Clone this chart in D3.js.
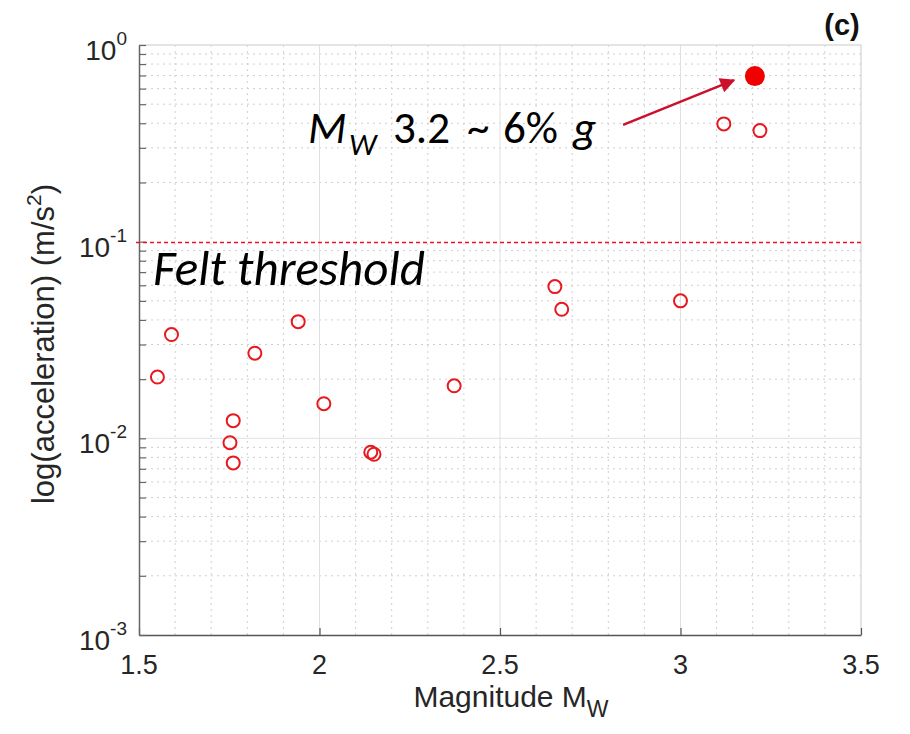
<!DOCTYPE html>
<html>
<head>
<meta charset="utf-8">
<script src="https://cdn.jsdelivr.net/npm/d3@7"></script>
<style>
  body { margin: 0; background: #fff; }
  svg { display: block; }
</style>
</head>
<body>
<div id="chart"></div>
<script>
// Event magnitudes (Mw) and peak accelerations (m/s^2)
const magnitudes = [1.551, 1.590, 1.821, 1.941, 1.761, 1.752, 1.761, 2.012, 2.142, 2.151, 2.373, 2.652, 2.671, 3.000, 3.120, 3.220];
const accelerations = [0.0205, 0.0337, 0.0271, 0.0392, 0.0123, 0.0095, 0.0075, 0.0150, 0.0085, 0.0083, 0.0185, 0.0591, 0.0453, 0.0500, 0.397, 0.367];

// Highlighted event
const highlightMag = [3.206];
const highlightAcc = [0.695];

const feltThreshold = 0.1;
const xTickValues = [1.5, 2, 2.5, 3, 3.5];
const yTickExponents = [0, -1, -2, -3];

const W = 910, H = 734;
const pLeft = 139, pRight = 861, pTop = 45, pBottom = 635;

const svg = d3.select('#chart').append('svg')
    .attr('width', W).attr('height', H)
    .attr('font-family', '"Liberation Sans", Arial, Helvetica, sans-serif');

const x = d3.scaleLinear().domain([1.5, 3.5]).range([pLeft, pRight]);
const y = d3.scaleLog().domain([1e-3, 1]).range([pBottom, pTop]);

// grid -------------------------------------------------------------
const grid = svg.append('g');
const xMinor = d3.range(16, 35).map(d => d / 10).filter(d => xTickValues.indexOf(d) < 0);
const yAll = y.ticks();
const yMajor = yTickExponents.map(e => Math.pow(10, e));
const yMinor = yAll.filter(v => !yMajor.some(m => Math.abs(m - v) < 1e-12));

grid.selectAll('.xminor').data(xMinor).join('line')
    .attr('x1', d => x(d)).attr('x2', d => x(d))
    .attr('y1', pTop).attr('y2', pBottom)
    .attr('stroke', '#cfcfcf').attr('stroke-width', 1)
    .attr('stroke-dasharray', '2,4');

grid.selectAll('.yminor').data(yMinor).join('line')
    .attr('y1', d => y(d)).attr('y2', d => y(d))
    .attr('x1', pLeft).attr('x2', pRight)
    .attr('stroke', '#cfcfcf').attr('stroke-width', 1)
    .attr('stroke-dasharray', '2,4');

grid.selectAll('.xmajor').data([2, 2.5, 3]).join('line')
    .attr('x1', d => x(d)).attr('x2', d => x(d))
    .attr('y1', pTop).attr('y2', pBottom)
    .attr('stroke', '#e0e0e0').attr('stroke-width', 1);

grid.selectAll('.ymajor').data([1e-2]).join('line')
    .attr('y1', d => y(d)).attr('y2', d => y(d))
    .attr('x1', pLeft).attr('x2', pRight)
    .attr('stroke', '#e0e0e0').attr('stroke-width', 1);

// box top / right (light)
svg.append('path')
    .attr('d', `M${pLeft},${pTop}H${pRight}V${pBottom}`)
    .attr('fill', 'none').attr('stroke', '#dcdcdc').attr('stroke-width', 1.5);

// axes -------------------------------------------------------------
const xAxis = svg.append('g')
    .attr('transform', `translate(0,${pBottom})`)
    .call(d3.axisBottom(x).tickValues(xTickValues).tickSizeInner(-7).tickSizeOuter(0).tickFormat(''));
xAxis.select('.domain').attr('stroke', '#555').attr('stroke-width', 1.5);
xAxis.selectAll('.tick line').attr('stroke', '#555').attr('stroke-width', 1.2);

const yAxis = svg.append('g')
    .attr('transform', `translate(${pLeft},0)`)
    .call(d3.axisLeft(y).tickValues(yAll).tickSizeInner(-7).tickSizeOuter(0).tickFormat(''));
yAxis.select('.domain').attr('stroke', '#666').attr('stroke-width', 1.5);
yAxis.selectAll('.tick line').attr('stroke', '#666').attr('stroke-width', 1.2);

// tick labels
svg.append('g').selectAll('text').data(xTickValues).join('text')
    .attr('x', d => x(d)).attr('y', pBottom + 39)
    .attr('text-anchor', 'middle')
    .attr('font-size', 27).attr('fill', '#262626')
    .text(d => d);

const yl = svg.append('g').selectAll('text').data(yTickExponents).join('text')
    .attr('x', pLeft - 12).attr('y', d => y(Math.pow(10, d)) + 15)
    .attr('text-anchor', 'end')
    .attr('font-size', 28).attr('fill', '#262626');
yl.append('tspan').text('10');
yl.append('tspan').attr('dy', -15).attr('font-size', 19).text(d => d === 0 ? '0' : '-' + Math.abs(d));

// axis titles
const xt = svg.append('text')
    .attr('x', 511).attr('y', 707)
    .attr('text-anchor', 'middle')
    .attr('font-size', 30).attr('fill', '#262626');
xt.append('tspan').text('Magnitude M');
xt.append('tspan').attr('dy', 10).attr('font-size', 23).text('W');

const yt = svg.append('text')
    .attr('transform', `translate(54,344) rotate(-90)`)
    .attr('text-anchor', 'middle')
    .attr('font-size', 31).attr('fill', '#262626');
yt.append('tspan').text('log(acceleration) (m/s');
yt.append('tspan').attr('dy', -13).attr('font-size', 21).text('2');
yt.append('tspan').attr('dy', 13).text(')');

// panel label
svg.append('text')
    .attr('x', 842).attr('y', 35)
    .attr('text-anchor', 'middle')
    .attr('font-size', 29).attr('font-weight', 'bold').attr('fill', '#111')
    .text('(c)');

// felt threshold line
svg.append('line')
    .attr('x1', pLeft - 3).attr('x2', pRight + 1)
    .attr('y1', Math.round(y(feltThreshold)) + 0.5).attr('y2', Math.round(y(feltThreshold)) + 0.5)
    .attr('stroke', '#e8112d').attr('stroke-width', 1.5)
    .attr('stroke-dasharray', '4,3');

// points
svg.append('g').selectAll('circle').data(magnitudes).join('circle')
    .attr('cx', d => x(d))
    .attr('cy', (d, i) => y(accelerations[i]))
    .attr('r', 6.5)
    .attr('fill', 'none')
    .attr('stroke', '#e8191e')
    .attr('stroke-width', 2);

svg.append('g').selectAll('circle').data(highlightMag).join('circle')
    .attr('cx', d => x(d))
    .attr('cy', (d, i) => y(highlightAcc[i]))
    .attr('r', 10)
    .attr('fill', '#f00000');

// annotations -------------------------------------------------------
const annoFont = 'Carlito, "Open Sans", "Noto Sans", sans-serif';

function fitWidth(sel, target) {
    const w = sel.node().getComputedTextLength();
    const fs = +sel.attr('font-size');
    sel.attr('font-size', fs * target / w);
}

const felt = svg.append('text')
    .attr('x', 153).attr('y', 285)
    .attr('font-family', annoFont)
    .attr('font-style', 'italic')
    .attr('font-size', 38).attr('fill', '#000')
    .text('Felt threshold');
fitWidth(felt, 272);

const mw = svg.append('text')
    .attr('y', 143)
    .attr('font-family', annoFont)
    .attr('font-size', 45).attr('fill', '#000');
mw.append('tspan').attr('x', 308).attr('font-style', 'italic').text('M');
mw.append('tspan').attr('x', 349).attr('font-style', 'italic').attr('dy', 12).attr('font-size', 31).text('W');
mw.append('tspan').attr('x', 393).attr('dy', -12).text('3.2');
mw.append('tspan').attr('x', 467).text('~');
mw.append('tspan').attr('x', 503).text('6%');
mw.append('tspan').attr('x', 573).attr('font-style', 'italic').text('g');

// arrow
svg.append('defs').append('marker')
    .attr('id', 'arrowhead')
    .attr('viewBox', '0 0 10 10')
    .attr('refX', 9).attr('refY', 5)
    .attr('markerWidth', 19).attr('markerHeight', 15)
    .attr('markerUnits', 'userSpaceOnUse')
    .attr('orient', 'auto')
    .append('path')
    .attr('d', 'M0,0 L10,5 L0,10 z')
    .attr('fill', '#cc0f2b');

svg.append('line')
    .attr('x1', x(2.841)).attr('y1', y(0.392))
    .attr('x2', x(3.148)).attr('y2', y(0.662))
    .attr('stroke', '#cc0f2b').attr('stroke-width', 2.4)
    .attr('marker-end', 'url(#arrowhead)');
</script>
</body>
</html>
